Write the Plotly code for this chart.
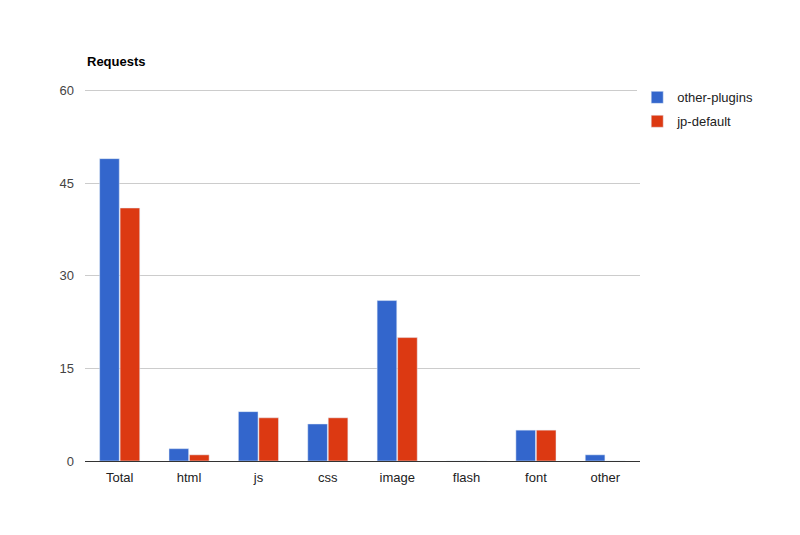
import plotly.graph_objects as go

categories = ["Total", "html", "js", "css", "image", "flash", "font", "other"]
other_plugins = [49, 2, 8, 6, 26, 0, 5, 1]
jp_default = [41, 1, 7, 7, 20, 0, 5, 0]
y_ticks = [0, 15, 30, 45, 60]

fig = go.Figure()
fig.add_bar(x=categories, y=other_plugins, name="other-plugins", marker_color="#3366cc",
            legendgroup="a")
fig.add_bar(x=categories, y=jp_default, name="jp-default", marker_color="#dc3912",
            legendgroup="b")

fig.update_layout(
    width=800, height=535,
    paper_bgcolor="white", plot_bgcolor="white",
    font=dict(family="Liberation Sans, Arial", size=13, color="#222222"),
    margin=dict(l=77, r=168, t=80, b=82),
    barmode="group", bargap=0.41, bargroupgap=0.04,
    showlegend=True,
    legend=dict(x=0.995, y=1.015, xanchor="left", yanchor="top",
                font=dict(size=13, color="#222222"), itemwidth=30,
                tracegroupgap=4),
    annotations=[dict(text="<b>Requests</b>", xref="paper", yref="paper",
                      x=0, y=1.07, xanchor="left", yanchor="middle",
                      showarrow=False, font=dict(size=13, color="#000000"))],
)
fig.update_xaxes(showgrid=False, showline=True, linecolor="#333333", linewidth=1,
                 ticks="", ticklabelstandoff=4, tickfont=dict(size=13, color="#222222"))
fig.update_yaxes(range=[0, 60.45], tickvals=y_ticks, showgrid=True, gridcolor="#cccccc",
                 zeroline=False, showline=False, ticks="", ticklabelstandoff=10,
                 tickfont=dict(size=13, color="#444444"))

fig.write_html("out.html")
